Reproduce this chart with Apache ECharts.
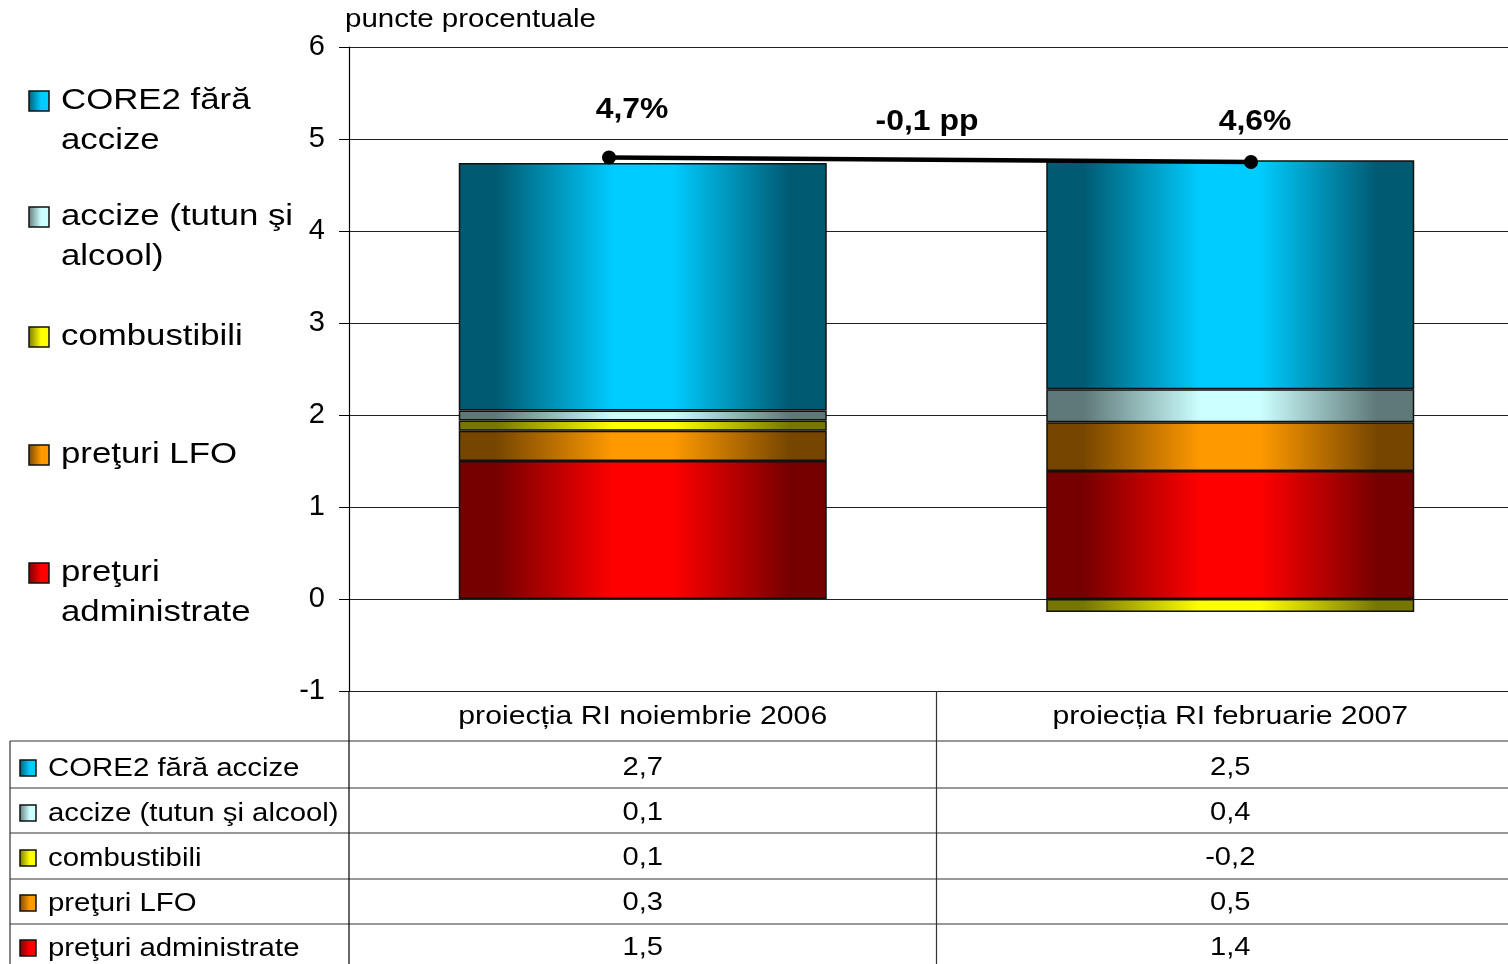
<!DOCTYPE html>
<html><head><meta charset="utf-8">
<script src="https://cdn.jsdelivr.net/npm/echarts@6/dist/echarts.min.js"></script>
<style>html,body{margin:0;padding:0;background:#fff}#c{width:1508px;height:964px}</style>
</head><body><div id="c"></div>
<script>
// ---- data ----
const categories = ['proiecția RI noiembrie 2006', 'proiecția RI februarie 2007'];
const tableNames = ['CORE2 fără accize', 'accize (tutun şi alcool)', 'combustibili', 'preţuri LFO', 'preţuri administrate'];
const legendNames = ['CORE2 fără\naccize', 'accize (tutun şi\nalcool)', 'combustibili', 'preţuri LFO', 'preţuri\nadministrate'];
const core2 = [2.69, 2.49];
const accize = [0.11, 0.36];
const combustibili = [0.11, -0.14];
const lfo = [0.33, 0.53];
const administrate = [1.5, 1.39];
const totalLine = [4.8, 4.75];
const totalLabels = ['4,7%', '4,6%'];
const diffLabel = '-0,1 pp';
const tableCore2 = ['2,7', '2,5'];
const tableAccize = ['0,1', '0,4'];
const tableCombustibili = ['0,1', '-0,2'];
const tableLfo = ['0,3', '0,5'];
const tableAdministrate = ['1,5', '1,4'];
const yMin = -1, yMax = 6, yStep = 1;
const unitLabel = 'puncte procentuale';

// ---- styling ----
const FONT = '"Liberation Sans", Arial, sans-serif';
const SX = 1.18;
const palette = [
  ['#005a72', '#00ccff'],   // core2
  ['#5f7878', '#ccffff'],   // accize
  ['#767600', '#ffff00'],   // combustibili
  ['#764600', '#ff9900'],   // lfo
  ['#760000', '#ff0000']    // administrate
];
function grad(p) {
  return new echarts.graphic.LinearGradient(0, 0, 1, 0, [
    {offset: 0, color: p[0]}, {offset: 0.1, color: p[0]},
    {offset: 0.42, color: p[1]}, {offset: 0.58, color: p[1]},
    {offset: 0.9, color: p[0]}, {offset: 1, color: p[0]}
  ]);
}
function iconGrad(p) {
  return new echarts.graphic.LinearGradient(0, 0, 1, 0, [
    {offset: 0, color: p[0]}, {offset: 0.6, color: p[1]}, {offset: 1, color: p[1]}
  ]);
}

const chart = echarts.init(document.getElementById('c'), null, {renderer: 'canvas'});
const seriesData = [core2, accize, combustibili, lfo, administrate];
const tableData = [tableCore2, tableAccize, tableCombustibili, tableLfo, tableAdministrate];
const stackOrder = [4, 3, 2, 1, 0];

const GL = 349, GT = 47, GW = 1175, GH = 644;
const barSeries = stackOrder.map(i => ({
  type: 'bar', name: tableNames[i], stack: 's', data: seriesData[i],
  barWidth: 368,
  itemStyle: {color: grad(palette[i]), borderColor: '#111', borderWidth: 1.5},
  xAxisIndex: 0, yAxisIndex: 0, animation: false
}));

chart.setOption({
  animation: false,
  grid: [
    {left: GL, top: GT, width: GW, height: GH, outerBoundsMode: 'none', containLabel: false},
    {left: 609, top: GT, width: 642, height: GH, outerBoundsMode: 'none', containLabel: false}
  ],
  xAxis: [
    {type: 'category', gridIndex: 0, data: categories, axisLine: {show: false}, axisTick: {show: false}, axisLabel: {show: false}},
    {type: 'category', gridIndex: 1, data: categories, boundaryGap: false, show: false}
  ],
  yAxis: [
    {type: 'value', gridIndex: 0, min: yMin, max: yMax, interval: yStep,
     axisLine: {show: true, lineStyle: {color: '#000', width: 1.2}},
     axisTick: {show: true, length: 10, lineStyle: {color: '#000'}},
     axisLabel: {fontFamily: FONT, fontSize: 29, color: '#000', margin: 24},
     splitLine: {lineStyle: {color: '#222', width: 1.2}}},
    {type: 'value', gridIndex: 1, min: yMin, max: yMax, show: false}
  ],
  series: barSeries.concat([{
    type: 'line', data: totalLine, xAxisIndex: 1, yAxisIndex: 1, z: 10,
    symbol: 'circle', symbolSize: 14,
    lineStyle: {color: '#000', width: 4.5}, itemStyle: {color: '#000'}
  }])
});

// ---- graphic overlay: texts, legend, table ----
const g = [];
function txt(x, y, text, o) {
  o = o || {};
  g.push({type: 'text', x: x, y: y, scaleX: o.sx || SX, z: 100,
    style: {text: text, x: 0, y: 0, fill: '#000', font: (o.bold ? 'bold ' : '') + (o.size || 26) + 'px ' + FONT,
      textAlign: o.align || 'left', textVerticalAlign: o.va || 'middle', lineHeight: o.lh}});
}
function line(x1, y1, x2, y2, c, w) {
  g.push({type: 'line', z: 50, shape: {x1: x1, y1: y1, x2: x2, y2: y2}, style: {stroke: c || '#333', lineWidth: w || 1.2}});
}
function icon(x, y, s, p) {
  g.push({type: 'rect', z: 100, shape: {x: x, y: y, width: s, height: s}, style: {fill: iconGrad(p), stroke: '#111', lineWidth: 1.5}});
}

// unit label
txt(345, 20, unitLabel, {size: 25});

// total labels
const p0 = chart.convertToPixel({gridIndex: 1}, [0, totalLine[0]]);
const p1 = chart.convertToPixel({gridIndex: 1}, [1, totalLine[1]]);
txt(p0[0] + 23, p0[1] - 47, totalLabels[0], {bold: true, size: 29, align: 'center', sx: 1.1});
txt(p1[0] + 4, p1[1] - 40, totalLabels[1], {bold: true, size: 29, align: 'center', sx: 1.1});
txt((p0[0] + p1[0]) / 2 - 3, p1[1] - 40, diffLabel, {bold: true, size: 29, align: 'center', sx: 1.1});

// left legend
const legY = [101, 217, 337, 455, 573];
legendNames.forEach((n, i) => {
  icon(29, legY[i] - 10, 20, palette[i]);
  txt(61, legY[i] - 20, n, {size: 29, va: 'top', lh: 40, sx: 1.2});
});

// category header labels
const c0 = chart.convertToPixel({gridIndex: 0}, [0, 0]);
const c1 = chart.convertToPixel({gridIndex: 0}, [1, 0]);
const colX = [c0[0], c1[0]];
categories.forEach((c, i) => txt(colX[i], 717, c, {size: 26, align: 'center', sx: 1.16}));

// table
const rowTop = [741, 788, 833, 879, 924];
const rowMid = [768, 813, 858, 903, 948];
const sepX = (colX[0] + colX[1]) / 2;
rowTop.forEach(y => line(10, y, 1508, y, '#333'));
line(10, 741, 10, 964, '#333');
line(sepX, 691, sepX, 964, '#333');
line(GL, 691, GL, 964, '#000');
tableNames.forEach((n, i) => {
  icon(20, rowMid[i] - 8, 16, palette[i]);
  txt(48, rowMid[i] + 1, n, {size: 26, sx: 1.13});
  tableData[i].forEach((v, j) => txt(colX[j], rowMid[i], v, {size: 26, align: 'center', sx: 1.12}));
});

chart.setOption({graphic: g});
</script></body></html>
